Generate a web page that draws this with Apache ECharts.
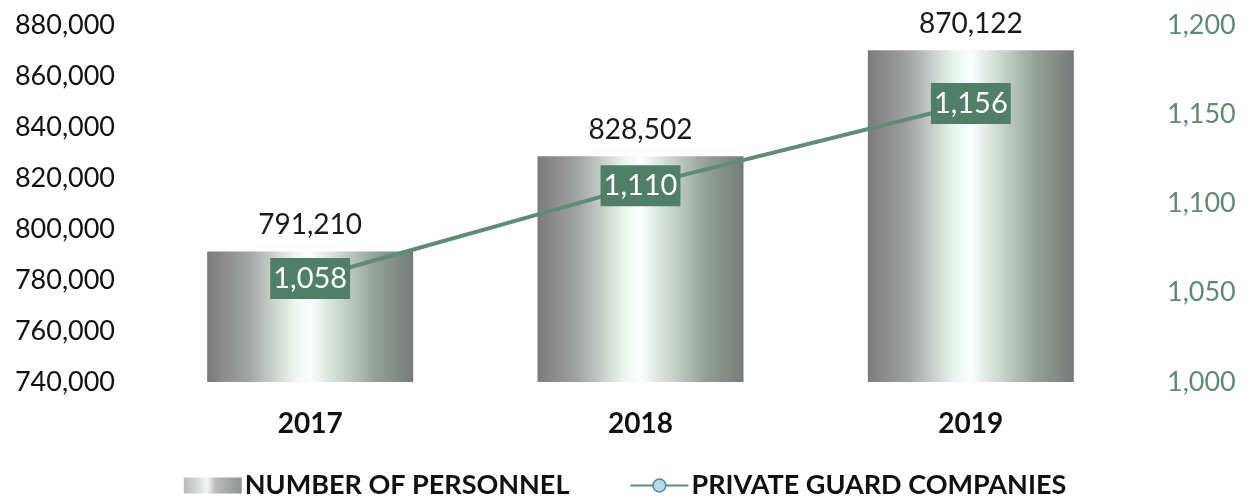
<!DOCTYPE html>
<html>
<head>
<meta charset="utf-8">
<script src="https://cdn.jsdelivr.net/npm/echarts@6/dist/echarts.min.js"></script>
<style>
html,body{margin:0;padding:0;background:#fff;}
#c{width:1250px;height:498px;}
</style>
</head>
<body>
<div id="c"></div>
<script>
const categories = ['2017', '2018', '2019'];
const personnel = [791210, 828502, 870122];
const companies = [1058, 1110, 1156];
const leftTicks = { min: 740000, max: 880000, interval: 20000 };
const rightTicks = { min: 1000, max: 1200, interval: 50 };

const FONT = 'Lato, "Open Sans", sans-serif';
const fmt = v => v.toLocaleString('en-US');

const barGradient = new echarts.graphic.LinearGradient(0, 0, 1, 0, [
  { offset: 0, color: '#7b7b7b' },
  { offset: 0.2, color: '#a2a5a3' },
  { offset: 0.42, color: '#eaf5ef' },
  { offset: 0.5, color: '#fbfffd' },
  { offset: 0.62, color: '#d2ddd7' },
  { offset: 0.82, color: '#93a099' },
  { offset: 1, color: '#767b78' }
]);
const legendGradient = new echarts.graphic.LinearGradient(0, 0, 1, 0, [
  { offset: 0, color: '#b8b8b8' },
  { offset: 0.25, color: '#d8dcda' },
  { offset: 0.4, color: '#f4f7f5' },
  { offset: 0.55, color: '#b9bcba' },
  { offset: 1, color: '#8f9391' }
]);

const chart = echarts.init(document.getElementById('c'), null, { renderer: 'canvas' });
chart.setOption({
  animation: false,
  backgroundColor: '#ffffff',
  grid: { left: 145, right: 114, top: 25, bottom: 116, containLabel: false },
  legend: {
    bottom: -6,
    left: 'center',
    itemGap: 60,
    itemWidth: 58,
    itemHeight: 16,
    textStyle: { fontFamily: FONT, fontSize: 27, fontWeight: 'bold', color: '#111', padding: [0, 0, 0, -2] },
    data: [
      { name: 'NUMBER OF PERSONNEL', icon: 'rect', itemStyle: { color: legendGradient } },
      { name: 'PRIVATE GUARD COMPANIES', itemStyle: { color: '#b9d8e8', borderColor: '#4a87ad', borderWidth: 1.5 } }
    ]
  },
  xAxis: {
    type: 'category',
    data: categories,
    axisLine: { show: false },
    axisTick: { show: false },
    axisLabel: { margin: 28, fontFamily: FONT, fontSize: 28, fontWeight: 'bold', color: '#111' }
  },
  yAxis: [
    {
      type: 'value',
      min: leftTicks.min, max: leftTicks.max, interval: leftTicks.interval,
      splitLine: { show: false },
      axisLine: { show: false },
      axisTick: { show: false },
      axisLabel: { margin: 30, fontFamily: FONT, fontSize: 27, color: '#111', formatter: fmt }
    },
    {
      type: 'value',
      min: rightTicks.min, max: rightTicks.max, interval: rightTicks.interval,
      splitLine: { show: false },
      axisLine: { show: false },
      axisTick: { show: false },
      axisLabel: { margin: 31, fontFamily: FONT, fontSize: 27, color: '#5f8a74', formatter: fmt }
    }
  ],
  series: [
    {
      name: 'NUMBER OF PERSONNEL',
      type: 'bar',
      yAxisIndex: 0,
      barWidth: 206,
      data: personnel,
      itemStyle: { color: barGradient },
      label: {
        show: true, position: 'top', distance: 12,
        fontFamily: FONT, fontSize: 28, color: '#1a1a1a',
        formatter: p => fmt(p.value)
      }
    },
    {
      name: 'PRIVATE GUARD COMPANIES',
      type: 'line',
      yAxisIndex: 1,
      data: companies,
      symbol: 'circle',
      symbolSize: 4,
      showSymbol: true,
      lineStyle: { color: '#5d8d75', width: 4 },
      itemStyle: { color: '#5d8d75' },
      label: {
        show: true, position: 'inside',
        fontFamily: FONT, fontSize: 29, color: '#ffffff',
        backgroundColor: '#4f7f68',
        padding: [7, 3, 5, 3],
        formatter: p => fmt(p.value)
      },
      z: 5
    }
  ]
});
</script>
</body>
</html>
